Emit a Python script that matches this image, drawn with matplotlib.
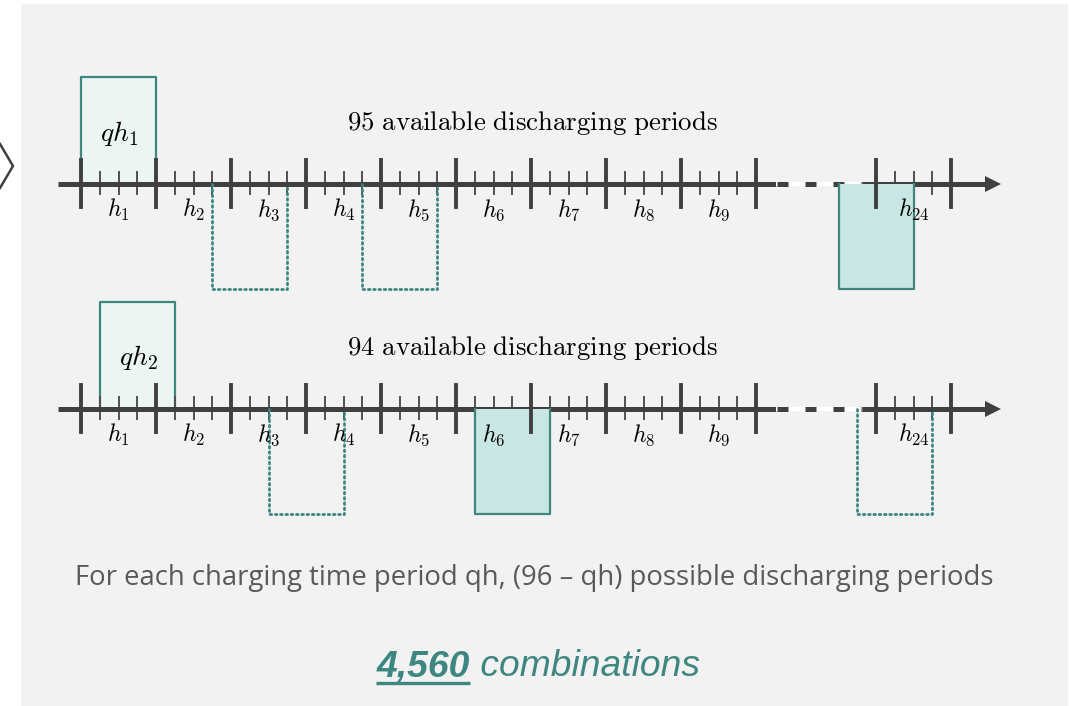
import matplotlib
matplotlib.use("Agg")
import matplotlib.pyplot as plt
from matplotlib.patches import Rectangle, Polygon

plt.rcParams['mathtext.fontset'] = 'cm'

# ---- datos del diagrama (en unidades de periodo horario) ----
period_labels = ['1', '2', '3', '4', '5', '6', '7', '8', '9', '24']
period_starts = [0, 1, 2, 3, 4, 5, 6, 7, 8, 10.6]   # h24 despues del tramo punteado

row_titles = ['95 available discharging periods', '94 available discharging periods']
charge_labels = ['qh_1', 'qh_2']
charge_boxes = [(0.0, 1.0), (0.25, 1.25)]
# (inicio, fin, relleno?)
discharge_boxes = [
    [(1.75, 2.75, False), (3.75, 4.75, False), (10.1, 11.1, True)],
    [(2.5, 3.5, False), (5.25, 6.25, True), (10.35, 11.35, False)],
]
footer_text = 'For each charging time period qh, (96 \u2013 qh) possible discharging periods'
n_combinations = '4,560'

# ---- estilos ----
W, H = 1069, 706
X0, DX = 81, 75          # pixel del inicio de h1 y ancho de cada periodo
row_y = [184, 409]
axis_col = '#404040'
teal = '#3E8680'
fill_dark = '#C8E6E3'
fill_light = '#EBF5F4'
bg = '#F2F2F2'


def px(u):
    return X0 + DX * u


fig = plt.figure(figsize=(W / 100, H / 100), dpi=100)
ax = fig.add_axes([0, 0, 1, 1])
ax.set_xlim(0, W)
ax.set_ylim(H, 0)
ax.axis('off')

# fondo gris y chevron a la izquierda
ax.add_patch(Rectangle((21, 4), 1047, 702, facecolor=bg, edgecolor='none', zorder=0))
ax.plot([0, 13, 0], [144, 166, 188], color=axis_col, lw=1.8, zorder=1)

for r, y in enumerate(row_y):
    # linea de tiempo
    ax.plot([58, 776], [y, y], color=axis_col, lw=3.6, solid_capstyle='butt', zorder=3)
    ax.plot([776, 862], [y, y], color='white', lw=3.0, solid_capstyle='butt', zorder=3)
    ax.plot([777, 862], [y, y], color=axis_col, lw=3.6, dashes=(2.2, 3.4),
            solid_capstyle='butt', zorder=3.1)
    ax.plot([862, 986], [y, y], color=axis_col, lw=3.6, solid_capstyle='butt', zorder=3)
    ax.add_patch(Polygon([[985, y - 8], [1001, y], [985, y + 8]], closed=True,
                         facecolor=axis_col, edgecolor='none', zorder=3))

    # marcas mayores y menores
    for s in period_starts:
        ax.plot([px(s), px(s)], [y - 24, y + 23], color=axis_col, lw=2.8, zorder=4)
    ax.plot([px(9), px(9)], [y - 24, y + 23], color=axis_col, lw=2.8, zorder=4)
    ax.plot([px(11.6), px(11.6)], [y - 24, y + 23], color=axis_col, lw=2.8, zorder=4)
    for s in period_starts:
        for f in (0.25, 0.5, 0.75):
            ax.plot([px(s + f), px(s + f)], [y - 12, y + 10], color='#505050',
                    lw=1.4, zorder=2.5)

    # etiquetas h_i
    for lab, s in zip(period_labels, period_starts):
        ax.text(px(s + 0.5), y + 26, r'$h_{%s}$' % lab, ha='center', va='center',
                fontsize=17, color='black', zorder=6)

    # caja de carga
    a, b = charge_boxes[r]
    top = y - 107
    ax.add_patch(Rectangle((px(a), top), px(b) - px(a), y - top, facecolor=fill_light,
                           edgecolor='none', zorder=1.5))
    ax.plot([px(a), px(a), px(b), px(b)], [y, top, top, y], color=teal, lw=1.6, zorder=2)
    ax.text((px(a) + px(b)) / 2 + 1, y - 51, r'$%s$' % charge_labels[r], ha='center',
            va='center', fontsize=20, color='black', zorder=6)

    # cajas de descarga
    for a, b, filled in discharge_boxes[r]:
        bot = y + 105
        if filled:
            ax.add_patch(Rectangle((px(a), y), px(b) - px(a), bot - y, facecolor=fill_dark,
                                   edgecolor='none', zorder=3.5))
            ax.plot([px(a), px(a), px(b), px(b)], [y, bot, bot, y], color=teal,
                    lw=1.6, zorder=3.6)
        else:
            ax.plot([px(a), px(a), px(b), px(b)], [y, bot, bot, y], color=teal,
                    lw=2.0, linestyle=(0, (0.6, 1.3)), dash_capstyle='round', zorder=3.6)

    # titulo de la fila
    ax.text(532, y - 61, r'$\mathrm{%s}$' % row_titles[r].replace(' ', r'\ '),
            ha='center', va='center', fontsize=19.3, color='black', zorder=6)

# texto inferior
ax.text(534, 578, footer_text, ha='center', va='center', fontsize=19.8,
        family='Open Sans', color='#595959')

# "4,560 combinations" con subrayado
fig.canvas.draw()
r_ = fig.canvas.get_renderer()
t1 = ax.text(0, 667, n_combinations, ha='left', va='center', fontsize=26.8,
             family='Liberation Sans', style='italic', weight='bold', color=teal)
t2 = ax.text(0, 667, ' combinations', ha='left', va='center', fontsize=26.8,
             family='Liberation Sans', style='italic', color=teal)
w1 = t1.get_window_extent(r_).width
w2 = t2.get_window_extent(r_).width
x_start = 538 - (w1 + w2) / 2
t1.set_x(x_start)
t2.set_x(x_start + w1)
ax.plot([x_start, x_start + w1], [683, 683], color=teal, lw=2.4, solid_capstyle='butt')

fig.savefig('out.png', dpi=100, facecolor='white')
